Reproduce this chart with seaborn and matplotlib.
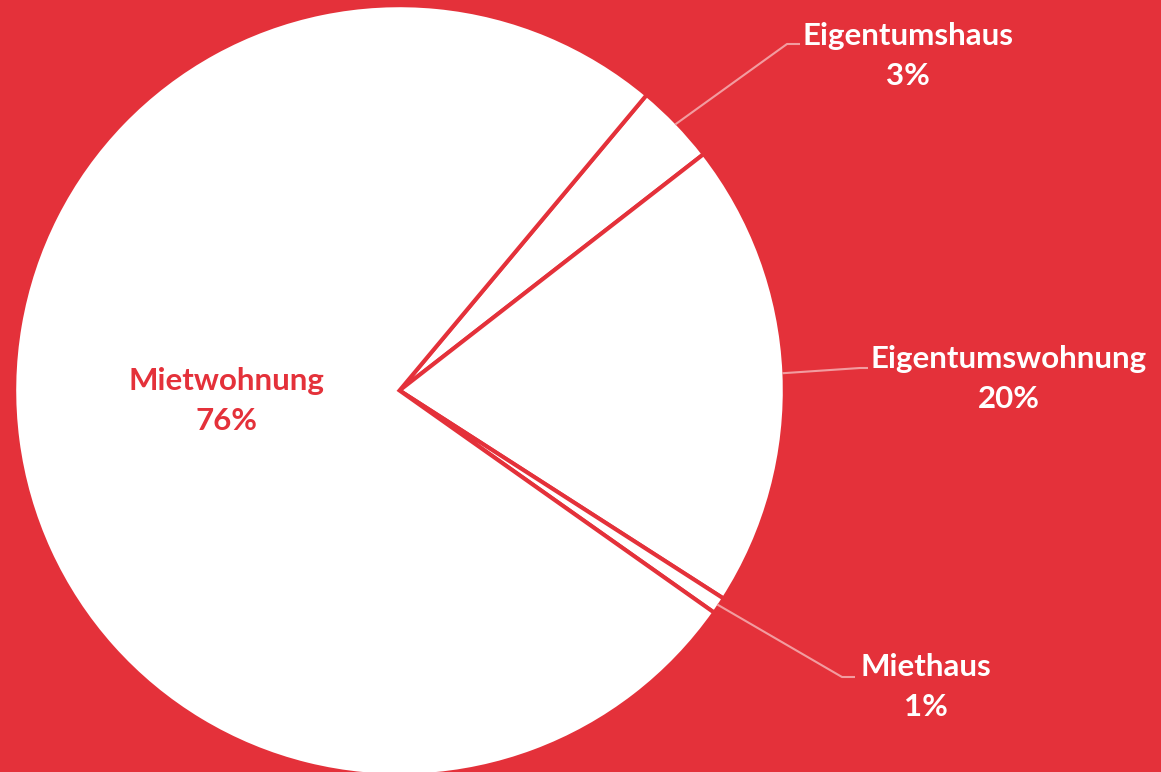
import numpy as np
import matplotlib
matplotlib.use("Agg")
import matplotlib.pyplot as plt
import seaborn as sns

# Data
categories = ["Eigentumshaus", "Eigentumswohnung", "Miethaus", "Mietwohnung"]
values = [3.4, 19.6, 0.7, 76.3]

sns.set_style("white")
plt.rcParams["font.family"] = ["Lato", "DejaVu Sans"]

BG = "#E4313A"
W, H = 1161, 772
fig = plt.figure(figsize=(W / 100, H / 100), dpi=100, facecolor=BG)
ax = fig.add_axes([0, 0, 1, 1])
ax.set_facecolor(BG)

cx, cy, R = 399.5, 390.5, 383.0

wedges, _ = ax.pie(values, startangle=50.1, counterclock=False,
                   radius=1.006,
                   colors=["white"] * len(values),
                   wedgeprops=dict(edgecolor=BG, linewidth=2.9))

ax.set_aspect("equal", adjustable="box")
ax.set_xlim(-cx / R, (W - cx) / R)
ax.set_ylim(-(H - cy) / R, cy / R)
ax.axis("off")

def px(x, y):
    return ((x - cx) / R, (cy - y) / R)

# label layout: (elbow px, end px, text center px)
layout = {
    "Eigentumshaus": ((787, 44), (800, 44), (908, 56)),
    "Eigentumswohnung": ((860, 368), (868, 368), (1009, 379)),
    "Miethaus": ((842, 677), (855, 677), (926, 687)),
}
lead_col = "#F29CA0"
FS = 22.5
LS = 1.5
for w, cat, v in zip(wedges, categories, values):
    lab = f"{cat}\n{round(v):.0f}%"
    mid = np.deg2rad((w.theta1 + w.theta2) / 2)
    if cat in layout:
        (ex, ey), (fx, fy), (tx, ty) = layout[cat]
        sx, sy = np.cos(mid), np.sin(mid)
        e = px(ex, ey); f = px(fx, fy); t = px(tx, ty)
        ax.plot([sx, e[0], f[0]], [sy, e[1], f[1]], color=lead_col, lw=1.5,
                solid_capstyle="butt")
        ax.text(t[0], t[1], lab, ha="center", va="center", color="white",
                fontsize=FS, fontweight="bold", linespacing=LS)
    else:
        t = px(226.5, 401)
        ax.text(t[0], t[1], lab, ha="center", va="center", color=BG,
                fontsize=FS, fontweight="bold", linespacing=LS)

fig.savefig("out.png", dpi=100, facecolor=BG)
